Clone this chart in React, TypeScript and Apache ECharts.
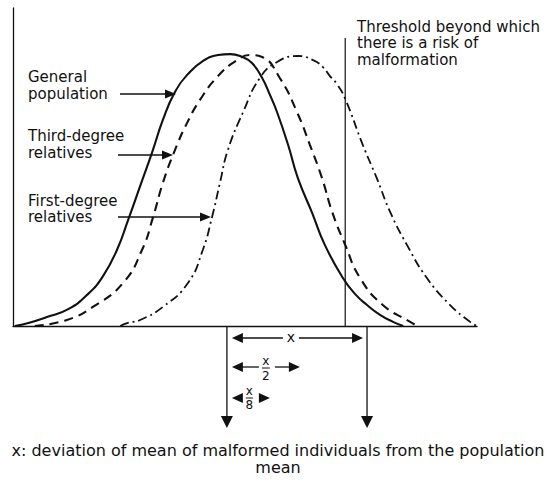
import React, { useEffect, useRef } from "react";
import * as echarts from "echarts";

// Curves: [position, frequency] (x 0..100, y 0..100)
const generalPopulation: [number, number][] = [
  [0.4, 0], [3.7, 1.1], [7.3, 2.8], [11.9, 5.3], [16.2, 10.1], [19.4, 15.7],
  [22.4, 23.9], [24.8, 33.3], [27.4, 44.0], [30.0, 54.7], [32.3, 64.8],
  [34.9, 73.6], [37.7, 79.2], [40.9, 83.3], [44.2, 85.2], [46.8, 85.5],
  [49.4, 84.6], [51.5, 82.7], [53.7, 78.0], [55.4, 72.6], [56.9, 67.3],
  [59.3, 56.9], [61.4, 46.5], [64.4, 35.8], [67.2, 25.5], [71.1, 15.1],
  [73.7, 10.1], [76.3, 6.6], [79.1, 3.5], [81.9, 1.3], [84.1, 0],
];
const thirdDegree: [number, number][] = [
  [4.7, 0], [11.6, 1.9], [17.2, 6.0], [23.7, 13.5], [27.8, 23.9], [30.2, 34.3],
  [32.3, 45.0], [34.9, 55.3], [37.5, 63.8], [40.3, 71.1], [44.0, 78.3],
  [48.3, 83.6], [51.1, 85.2], [53.7, 84.6], [57.5, 78.0], [61.2, 67.3],
  [64.0, 56.9], [66.6, 46.5], [68.8, 35.8], [71.6, 25.5], [74.8, 15.1],
  [79.7, 6.6], [85.6, 1.3], [87.1, 0],
];
const firstDegree: [number, number][] = [
  [23.1, 0], [24.6, 0.9], [27.4, 1.9], [32.3, 6.0], [37.7, 13.5], [40.9, 23.9],
  [42.9, 34.3], [44.6, 45.0], [46.3, 55.3], [49.6, 67.3], [53.2, 78.0],
  [56.9, 83.0], [61.4, 84.9], [64.7, 83.6], [66.8, 81.4], [68.3, 78.6],
  [69.8, 76.1], [71.6, 71.4], [75.4, 56.9], [78.4, 46.5], [81.3, 35.8],
  [84.9, 25.5], [89.2, 15.1], [94.2, 6.6], [98.5, 1.3], [100, 0],
];
const threshold: [number, number][] = [[71.6, 0], [71.6, 90.6]];
const populationMean = 46.1;
const malformedMean = 76.3;

const curveLabels = [
  "General\npopulation",
  "Third-degree\nrelatives",
  "First-degree\nrelatives",
];
const thresholdLabel = "Threshold beyond which\nthere is a risk of\nmalformation";
const footnote = "x: deviation of mean of malformed individuals from the population\nmean";
const deviationLabels = ["x", "x\n2", "x\n8"];

const FONT = "'DejaVu Sans', sans-serif";
const INK = "#111";

function arrowHead(tipX: number, tipY: number, dir: "left" | "right" | "down", len = 11, half = 5) {
  let pts: number[][];
  if (dir === "right") pts = [[tipX, tipY], [tipX - len, tipY - half], [tipX - len, tipY + half]];
  else if (dir === "left") pts = [[tipX, tipY], [tipX + len, tipY - half], [tipX + len, tipY + half]];
  else pts = [[tipX, tipY], [tipX - half - 1, tipY - len], [tipX + half + 1, tipY - len]];
  return { type: "polygon", shape: { points: pts }, style: { fill: INK }, silent: true };
}
function seg(x1: number, y1: number, x2: number, y2: number, w = 1.3) {
  return { type: "line", shape: { x1, y1, x2, y2 }, style: { stroke: INK, lineWidth: w }, silent: true };
}
function txt(x: number, top: number, text: string, align = "left", size = 15, lh = 16.5) {
  return {
    type: "text", x, y: top, silent: true,
    style: {
      text, fill: INK, font: `${size}px ${FONT}`, fontSize: size, fontFamily: FONT,
      lineHeight: lh, textAlign: align, textVerticalAlign: "top",
    },
  };
}

export default function App() {
  const ref = useRef<HTMLDivElement>(null);
  useEffect(() => {
    if (!ref.current) return;
    const chart = echarts.init(ref.current, null, { renderer: "svg" });
    const lineSeries = (name: string, data: [number, number][], type: any, width: number) => ({
      name, type: "line", data, smooth: 0.5, symbol: "none", silent: true,
      lineStyle: { color: INK, width, type },
    });
    chart.setOption({
      animation: false,
      backgroundColor: "#fff",
      grid: { left: 13, right: 79, top: 8, bottom: 155, outerBoundsMode: "none" },
      xAxis: {
        type: "value", min: 0, max: 100,
        axisLine: { show: true, onZero: false, lineStyle: { color: INK, width: 1.3 } },
        axisTick: { show: false }, axisLabel: { show: false }, splitLine: { show: false },
      },
      yAxis: {
        type: "value", min: 0, max: 100,
        axisLine: { show: true, onZero: false, lineStyle: { color: INK, width: 1.3 } },
        axisTick: { show: false }, axisLabel: { show: false }, splitLine: { show: false },
      },
      series: [
        lineSeries("General population", generalPopulation, "solid", 2.1),
        lineSeries("Third-degree relatives", thirdDegree, [9, 6], 2.1),
        lineSeries("First-degree relatives", firstDegree, [9, 4, 2, 4], 1.8),
        { name: "Threshold", type: "line", data: threshold, symbol: "none", silent: true,
          lineStyle: { color: INK, width: 1.2 } },
      ],
    });

    const [mx, baseY] = chart.convertToPixel({ gridIndex: 0 }, [populationMean, 0]) as number[];
    const [rx] = chart.convertToPixel({ gridIndex: 0 }, [malformedMean, 0]) as number[];
    const downTip = baseY + 102;
    const L = mx + 5;
    const g: any[] = [];
    // vertical arrows from the means
    g.push(seg(mx, baseY, mx, downTip - 8), arrowHead(mx, downTip, "down", 12, 5));
    g.push(seg(rx, baseY, rx, downTip - 8), arrowHead(rx, downTip, "down", 12, 5));
    // x arrow
    const yX = baseY + 12;
    g.push(arrowHead(L, yX, "left"), seg(L + 8, yX, mx + 56, yX));
    g.push(txt(mx + 64, yX - 9, deviationLabels[0], "center", 14, 15));
    g.push(seg(mx + 72, yX, rx - 10, yX), arrowHead(rx - 4, yX, "right"));
    // x/2 arrow
    const y2 = baseY + 41;
    g.push(arrowHead(L, y2, "left"), seg(L + 8, y2, mx + 32, y2), seg(mx + 35, y2 + 1, mx + 43, y2 + 1, 1));
    g.push(txt(mx + 39, y2 - 14, deviationLabels[1], "center", 12, 15));
    g.push(seg(mx + 48, y2, mx + 66, y2), arrowHead(mx + 73, y2, "right"));
    // x/8 arrow
    const y8 = baseY + 72;
    g.push(arrowHead(L, y8, "left"), seg(mx + 19, y8, mx + 26, y8, 1));
    g.push(txt(mx + 22.5, y8 - 14, deviationLabels[2], "center", 12, 14));
    g.push(arrowHead(mx + 43, y8, "right"));

    // curve labels with arrows
    g.push(txt(28, 69, curveLabels[0]));
    g.push(seg(120, 94, 166, 94), arrowHead(176, 94, "right", 11, 4.5));
    g.push(txt(28, 128, curveLabels[1]));
    g.push(seg(118, 155, 163, 155), arrowHead(173, 155, "right", 11, 4.5));
    g.push(txt(28, 192.5, curveLabels[2], "left", 15, 16.5));
    g.push(seg(118, 217, 201, 217), arrowHead(211, 217, "right", 11, 4.5));

    // threshold label
    g.push(txt(357, 18.5, thresholdLabel));

    // footnote
    g.push(txt(278, 441.25, footnote, "center", 16, 17.5));

    chart.setOption({ graphic: g });
    return () => chart.dispose();
  }, []);
  return <div ref={ref} style={{ position: "absolute", left: 0, top: 0, width: 556, height: 481 }} />;
}
